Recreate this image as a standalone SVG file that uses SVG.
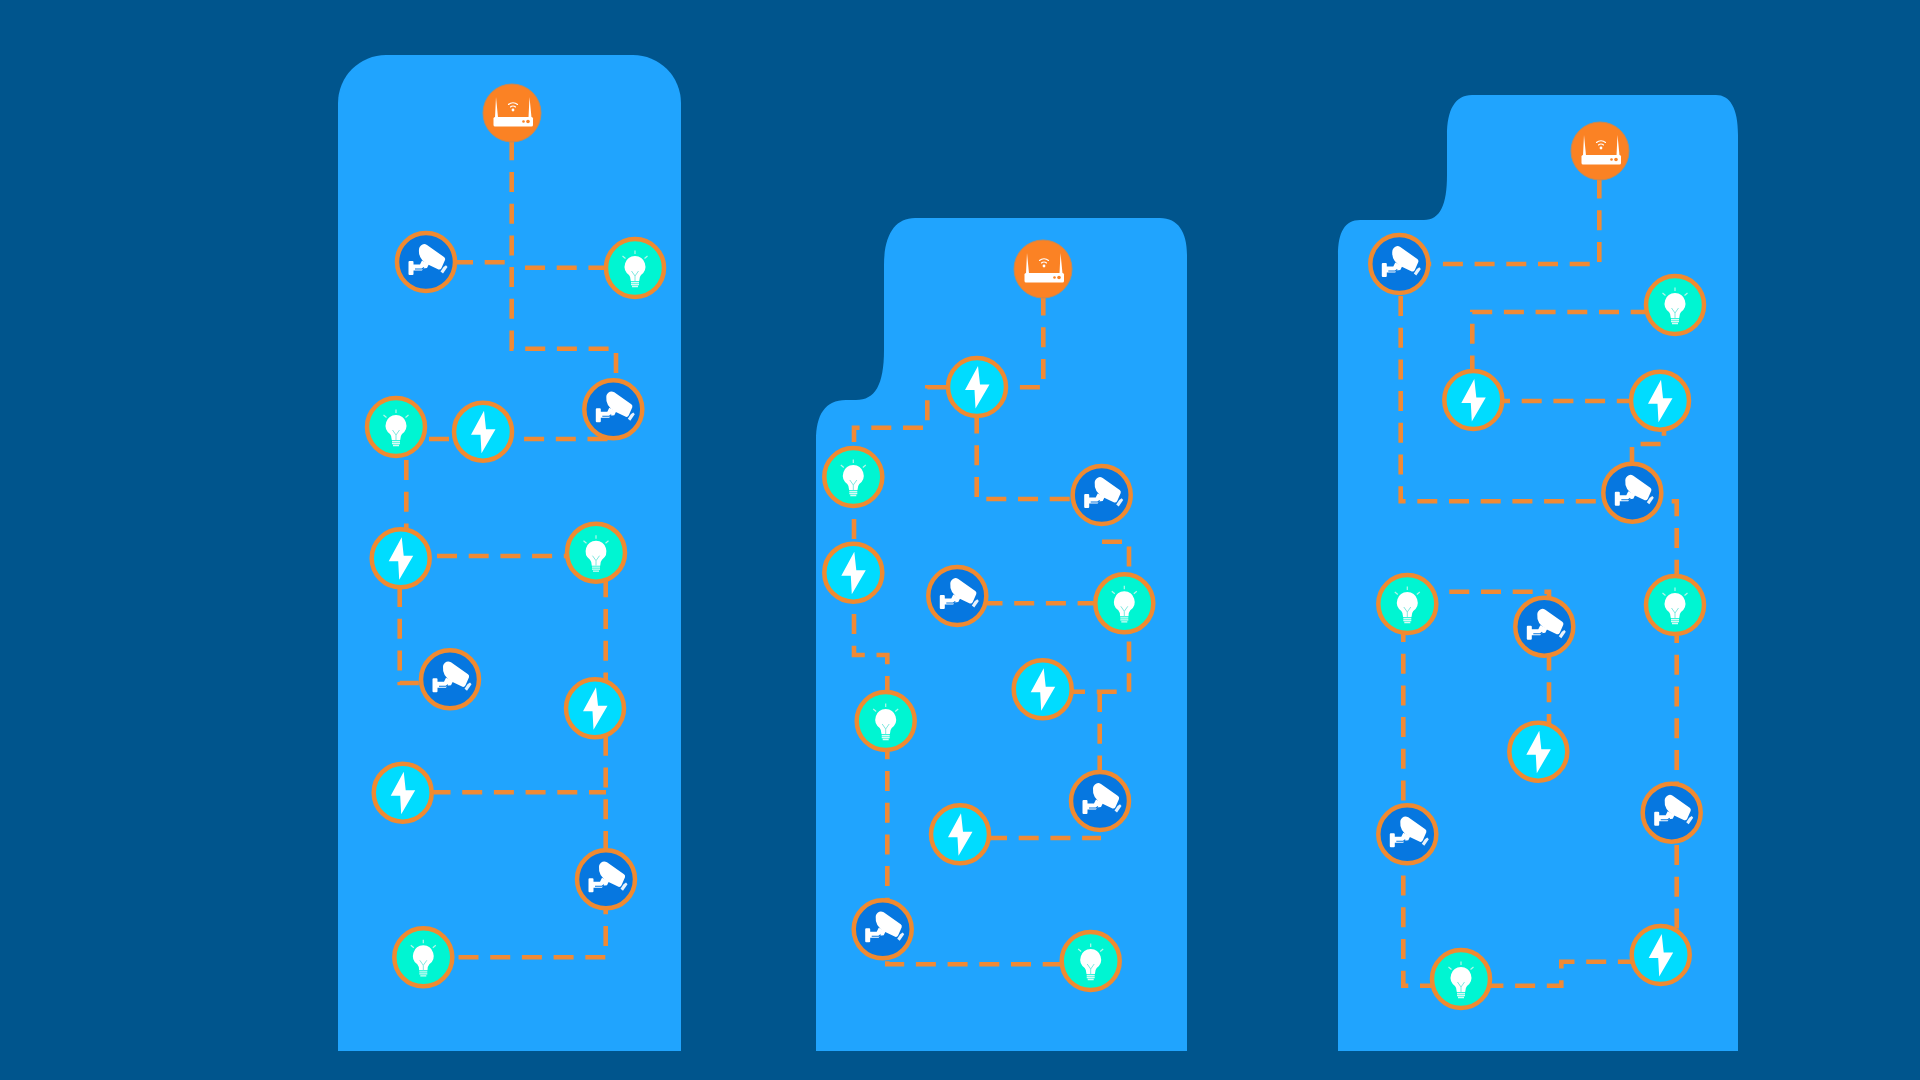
<svg xmlns="http://www.w3.org/2000/svg" xmlns:xlink="http://www.w3.org/1999/xlink" width="1920" height="1080" viewBox="0 0 1920 1080">
<style>
.panel{fill:#20a4fe}
.c{fill:none;stroke:#f08a35;stroke-width:4.6;stroke-dasharray:20 11.7;stroke-linejoin:miter}
.ring{stroke:#f08a30;stroke-width:4.5}
.w{fill:#fff}
.wl{fill:none;stroke:#fff;stroke-linecap:round}
</style>
<defs>
<g id="cam">
<circle r="29" class="ring" fill="#0677e0"/>
<path class="w" d="M-7,-12.5 Q-7,-15.5 -3.5,-17.5 Q-1.5,-18.5 1,-17 L18,-5 Q19.5,-4 19,-2 L15.5,6 Q14.5,8 12.5,7.5 L2,2.5 Q-8,-3 -7,-12.5Z"/>
<path class="w" d="M14.5,9.5 L17.5,5 L20,3.2 L21.5,5 L17,11.5Z" opacity=".9"/>
<path class="w" d="M-16.5,-1 h3 a1,1 0 0 1 1,1 v2.5 h6.5 l2,-4 l7,3.5 l-2,4 l-4,0.5 l-1,2 h-8.5 v3.5 a1,1 0 0 1 -1,1 h-3 a1,1 0 0 1 -1,-1 v-12 a1,1 0 0 1 1,-1Z"/>
<path d="M-11,7 H-4 l2,-1.5" stroke="#0677e0" stroke-width="1.1" fill="none"/>
</g>
<g id="bulb">
<circle r="29" class="ring" fill="#00f5d2"/>
<path class="w" d="M0,-12 a10.5,10.5 0 0 1 6,19 q-1.6,1.5 -1.8,6 h-8.4 q-.2,-4.5 -1.8,-6 a10.5,10.5 0 0 1 6,-19Z"/>
<path d="M-3.5,3 L0,8 L3.5,3 M0,8 V13" stroke="#7fe9e0" stroke-width="1" fill="none"/>
<path d="M-4,14.5 H4 M-4,16.5 H4 M-3,18.5 H3" stroke="#d8fbf6" stroke-width="1.3" fill="none"/>
<path d="M0,-17.5 V-14 M-12.5,-12 L-9.5,-9.5 M12.5,-12 L9.5,-9.5" stroke="#b5f5ea" stroke-width="1.2" fill="none"/>
</g>
<g id="bolt">
<circle r="29" class="ring" fill="#00dcff"/>
<path class="w" d="M1,-21 L-12,3 L-2.5,3 L-1.5,21.5 L12.5,-2.5 L3,-2.5Z"/>
</g>
<g id="router">
<circle r="29" fill="#fb8224" stroke="#c48a58" stroke-width="1"/>
<path class="w" d="M-16,-16 L-17,4.5 H-14 Z M17.5,-16 L16.5,4.5 H19.5 Z"/>
<rect class="w" x="-18.5" y="4" width="39.5" height="9.5" rx="1.5"/>
<circle cx="11.5" cy="8.5" r="1.3" fill="#fb8224"/>
<circle cx="16" cy="8.5" r="1.8" fill="#fb8224"/>
<circle cx="1" cy="-3" r="1.4" class="w"/>
<path class="wl" stroke-width="1.1" d="M-1.5,-6 a3.5,3.5 0 0 1 5,0 M-3.5,-8.5 a6.5,6.5 0 0 1 9,0"/>
</g>
</defs>
<rect width="1920" height="1080" fill="#00558d"/>
<g id="panels">
<path class="panel" d="M338,1051 V103 A48,48 0 0 1 386,55 H633 A48,48 0 0 1 681,103 V1051Z"/>
<path class="panel" d="M816,1051 V440 C816,415 825,400 846,400 H856 C875,400 884,385 884,350 V265 C884,235 895,218 915,218 H1160 C1178,218 1187,232 1187,255 V1051Z"/>
<path class="panel" d="M1338,1051 V255 C1338,232 1345,220 1360,220 H1424 C1440,220 1447,205 1447,175 V135 C1447,110 1455,95 1472,95 H1716 C1730,95 1738,108 1738,135 V1051Z"/>
</g>
<g id="connectors">
<path class="c" d="M511.7,140.3 V348.7 H616 V400"/>
<path class="c" d="M453,262.3 H512"/>
<path class="c" d="M525,267.7 H615"/>
<path class="c" d="M429,439 H608"/>
<path class="c" d="M406.3,460 V540"/>
<path class="c" d="M437,556 H570"/>
<path class="c" d="M605.7,577.3 V957.3 H440"/>
<path class="c" d="M399.7,587 V683 H430"/>
<path class="c" d="M430.5,792.3 H606"/>
<path class="c" d="M1043.3,295.6 V387.3 H1010"/>
<path class="c" d="M946,387.3 H927.3 V427.7 H854 V450"/>
<path class="c" d="M976.7,413.5 V499 H1075"/>
<path class="c" d="M854,519 V655 H887.3 V964.3 H1065"/>
<path class="c" d="M1102,541.7 H1129 V691.7"/>
<path class="c" d="M1065,691.7 H1118"/>
<path class="c" d="M1099.7,692 V775"/>
<path class="c" d="M982.5,603.3 H1095"/>
<path class="c" d="M987,838 H1101"/>
<path class="c" d="M1599.3,178.5 V264 H1425"/>
<path class="c" d="M1400.7,296 V501.3 H1600"/>
<path class="c" d="M1650.7,312 H1472.3 V378"/>
<path class="c" d="M1490,401 H1635"/>
<path class="c" d="M1664,415.7 V444 H1632 V470"/>
<path class="c" d="M1671.7,501.3 H1676.7 V930"/>
<path class="c" d="M1449.3,591.7 H1549 V725"/>
<path class="c" d="M1403.3,622 V985.7 H1561.3 V961.7 H1640"/>
</g>
<g id="nodes">
<g id="p1-router"><use href="#router" x="512" y="113"/></g>
<g id="p1-cam1"><use href="#cam" x="426" y="262"/></g>
<g id="p1-bulb1"><use href="#bulb" x="635" y="268"/></g>
<g id="p1-cam2"><use href="#cam" x="613.3" y="409.3"/></g>
<g id="p1-bulb2"><use href="#bulb" x="396" y="427"/></g>
<g id="p1-bolt1"><use href="#bolt" x="483" y="431.7"/></g>
<g id="p1-bolt2"><use href="#bolt" x="400.7" y="558.3"/></g>
<g id="p1-bulb3"><use href="#bulb" x="596" y="552.7"/></g>
<g id="p1-cam3"><use href="#cam" x="450" y="679.3"/></g>
<g id="p1-bolt3"><use href="#bolt" x="595" y="708.3"/></g>
<g id="p1-bolt4"><use href="#bolt" x="402.7" y="792.7"/></g>
<g id="p1-cam4"><use href="#cam" x="606" y="879.3"/></g>
<g id="p1-bulb4"><use href="#bulb" x="423.3" y="957.3"/></g>

<g id="p2-router"><use href="#router" x="1043" y="269"/></g>
<g id="p2-bolt1"><use href="#bolt" x="977" y="387"/></g>
<g id="p2-bulb1"><use href="#bulb" x="853.3" y="477"/></g>
<g id="p2-cam1"><use href="#cam" x="1101.7" y="495"/></g>
<g id="p2-bolt2"><use href="#bolt" x="853.3" y="572.7"/></g>
<g id="p2-cam2"><use href="#cam" x="957.3" y="596"/></g>
<g id="p2-bulb2"><use href="#bulb" x="1124.3" y="603.3"/></g>
<g id="p2-bolt3"><use href="#bolt" x="1042.7" y="689.3"/></g>
<g id="p2-bulb3"><use href="#bulb" x="885.7" y="721"/></g>
<g id="p2-cam3"><use href="#cam" x="1100" y="801"/></g>
<g id="p2-bolt4"><use href="#bolt" x="960" y="834.3"/></g>
<g id="p2-cam4"><use href="#cam" x="882.7" y="929.3"/></g>
<g id="p2-bulb4"><use href="#bulb" x="1090.7" y="961"/></g>

<g id="p3-router"><use href="#router" x="1600" y="151"/></g>
<g id="p3-cam1"><use href="#cam" x="1399.3" y="264"/></g>
<g id="p3-bulb1"><use href="#bulb" x="1675" y="305"/></g>
<g id="p3-bolt1"><use href="#bolt" x="1473.3" y="400"/></g>
<g id="p3-bolt2"><use href="#bolt" x="1660" y="400.7"/></g>
<g id="p3-cam2"><use href="#cam" x="1632.3" y="492.7"/></g>
<g id="p3-bulb2"><use href="#bulb" x="1407.3" y="604"/></g>
<g id="p3-cam3"><use href="#cam" x="1544.3" y="626.7"/></g>
<g id="p3-bulb3"><use href="#bulb" x="1675" y="605"/></g>
<g id="p3-bolt3"><use href="#bolt" x="1538.3" y="751.7"/></g>
<g id="p3-cam4"><use href="#cam" x="1407.3" y="834.3"/></g>
<g id="p3-cam5"><use href="#cam" x="1671.7" y="812.7"/></g>
<g id="p3-bolt4"><use href="#bolt" x="1660.7" y="955"/></g>
<g id="p3-bulb4"><use href="#bulb" x="1461" y="979"/></g>
</g>
</svg>
